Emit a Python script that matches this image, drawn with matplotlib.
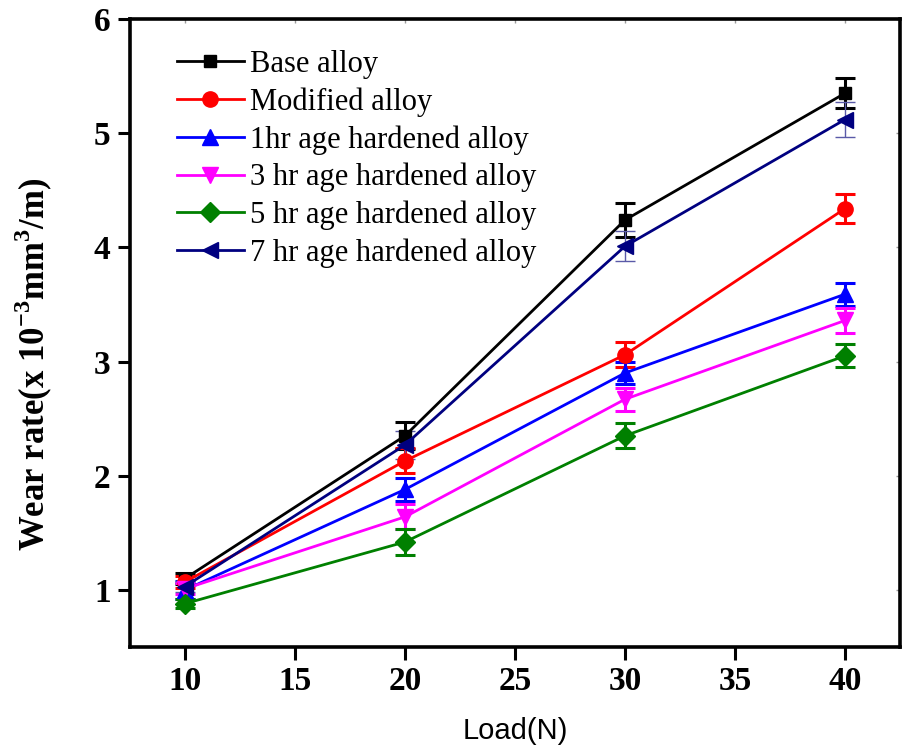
import numpy as np
import matplotlib
matplotlib.use("Agg")
import matplotlib.pyplot as plt

load = [10, 20, 30, 40]

labels = ["Base alloy", "Modified alloy", "1hr age hardened alloy",
          "3 hr age hardened alloy", "5 hr age hardened alloy",
          "7 hr age hardened alloy"]

base = [1.10, 2.35, 4.24, 5.35]
base_err = [0.05, 0.12, 0.15, 0.13]
modified = [1.07, 2.13, 3.06, 4.34]
modified_err = [0.05, 0.11, 0.11, 0.13]
age1 = [1.00, 1.88, 2.90, 3.59]
age1_err = [0.08, 0.10, 0.10, 0.10]
age3 = [1.01, 1.64, 2.67, 3.36]
age3_err = [0.05, 0.11, 0.10, 0.11]
age5 = [0.88, 1.42, 2.35, 3.05]
age5_err = [0.04, 0.11, 0.11, 0.10]
age7 = [1.03, 2.27, 4.01, 5.12]
age7_err = [0.05, 0.12, 0.13, 0.15]

series = [base, modified, age1, age3, age5, age7]
errors = [base_err, modified_err, age1_err, age3_err, age5_err, age7_err]
colors = ["black", "#ff0000", "#0000ff", "#ff00ff", "#008000", "#000080"]
markers = ["s", "o", "^", "v", "D", "<"]
msizes = [9, 11, 11, 11, 10, 11]

plt.rcParams["font.family"] = ["Liberation Serif", "DejaVu Serif"]
plt.rcParams["mathtext.fontset"] = "custom"
plt.rcParams["mathtext.rm"] = "Liberation Serif"
plt.rcParams["mathtext.bf"] = "Liberation Serif:bold"

fig = plt.figure(figsize=(9.07, 7.52), dpi=100)
ax = fig.add_axes([0.1433, 0.1396, 0.8490, 0.8351])

handles = []
for i in range(len(series)):
    thin = i == 5
    eb = ax.errorbar(load, series[i], yerr=errors[i], color=colors[i],
                     marker=markers[i], markersize=msizes[i], linewidth=2,
                     elinewidth=1 if thin else 2.2, capthick=1 if thin else 2.2,
                     capsize=7.5, ecolor="#5a5aa8" if thin else colors[i],
                     label=labels[i])
    handles.append(eb[0])

ax.set_xlim(7.5, 42.5)
ax.set_ylim(0.5, 6)
ax.set_xticks([10, 15, 20, 25, 30, 35, 40])
ax.set_yticks([1, 2, 3, 4, 5, 6])

for s in ax.spines.values():
    s.set_linewidth(2.6)
ax.tick_params(direction="out", length=9, width=2.2, labelsize=24, pad=5)
for t in ax.get_xticklabels() + ax.get_yticklabels():
    t.set_fontweight("bold")

# faint inner ticks on top and right
top = ax.secondary_xaxis("top")
top.set_xticks([10, 15, 20, 25, 30, 35, 40])
top.tick_params(direction="in", length=3, width=1, color="#999999", labeltop=False)
right = ax.secondary_yaxis("right")
right.set_yticks([1, 2, 3, 4, 5, 6])
right.tick_params(direction="in", length=3, width=1, color="#999999", labelright=False)
top.spines["top"].set_visible(False)
right.spines["right"].set_visible(False)

ax.set_xlabel("Load(N)", fontsize=21, family="Liberation Sans", labelpad=14)
ax.set_ylabel(r"Wear rate(x 10$^{\mathbf{-3}}$mm$^{\mathbf{3}}$/m)",
              fontsize=25, fontweight="bold")
ax.yaxis.set_label_coords(-0.097, 0.45)

ax.legend(handles, labels, loc="upper left", bbox_to_anchor=(0.045, 0.97),
          frameon=False, fontsize=22, handlelength=2.2, handletextpad=0.2,
          labelspacing=0.27, borderaxespad=0)

plt.savefig("out.png", dpi=100)
plt.close()
